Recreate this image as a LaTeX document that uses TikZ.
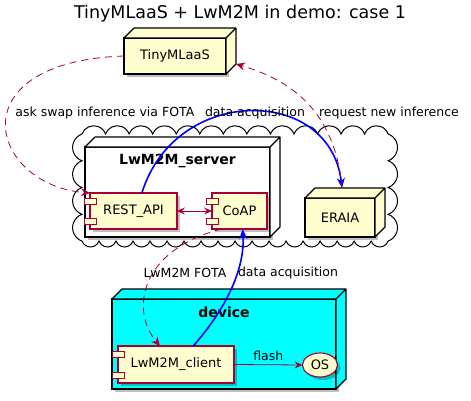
\documentclass[tikz,border=0pt]{standalone}
\usepackage{fontspec}
\setmainfont{DejaVu Sans}
\usetikzlibrary{calc,arrows.meta,shadows,shapes.geometric}

\definecolor{notefill}{HTML}{FEFECE}
\definecolor{crimson}{HTML}{A80036}
\definecolor{devicecyan}{HTML}{00FFFF}

% side and top faces of a 3D node box
\newcommand{\depthfaces}[2]{%
  \filldraw[fill=#2, line width=1.2pt, line join=round] (#1.north west) -- ++(10,10) -- ($(#1.north east)+(10,10)$) -- ($(#1.south east)+(10,10)$) -- (#1.south east) -- (#1.north east) -- cycle (#1.north east) -- ++(10,10);}
% the two small tabs of a component
\newcommand{\comptabs}[1]{%
  \filldraw[draw=crimson, fill=notefill, line width=1pt] ($(#1.north west)+(-6,-5)$) rectangle ++(12,-6) ($(#1.south west)+(-6,5)$) rectangle ++(12,6);}

\begin{document}
\begin{tikzpicture}[x=1pt,y=1pt,
	pshadow/.style={drop shadow={shadow xshift=3pt, shadow yshift=-3pt, opacity=0.25, fill=black}},
	box/.style={draw, line width=1.2pt, fill=notefill, outer sep=0pt, inner sep=0pt, font=\fontsize{13}{15}\selectfont, pshadow},
	comp/.style={draw=crimson, fill=notefill, line width=1.1pt, outer sep=0pt, inner sep=0pt, font=\fontsize{13}{15}\selectfont, pshadow},
	boxtitle/.style={anchor=north, yshift=-4pt, font=\fontsize{14}{16}\selectfont\bfseries},
	lbl/.style={text=black, font=\fontsize{12.5}{14}\selectfont, inner sep=1pt},
	fota/.style={crimson, dash pattern=on 7pt off 5pt, line width=0.8pt, -{Stealth[length=9pt,width=8pt,inset=3pt]}},
	data/.style={blue, line width=1.6pt, -{Stealth[length=10pt,width=8pt,inset=3pt]}},
	link/.style={crimson, line width=0.8pt}
]
	\useasboundingbox (0,0) rectangle (471,400);
	\node[font=\fontsize{17.5}{20}\selectfont] (title) at (240,386) {TinyMLaaS + LwM2M in demo: case 1};

	% cloud
	\draw[line width=1pt, fill=white] (82,266)
		\foreach \i in {1,...,13} { arc[start angle=160, end angle=20, radius=12.53] }
		\foreach \i in {1,...,4} { arc[start angle=70, end angle=-70, radius=14.24] }
		\foreach \i in {1,...,18} { arc[start angle=-20, end angle=-160, radius=9.05] }
		\foreach \i in {1,...,4} { arc[start angle=250, end angle=110, radius=14.24] } -- cycle;

	% server
	\node[box, fill=white, minimum width=185pt, minimum height=90pt, label={[boxtitle]north:LwM2M\_server}] (server) at (177.5,208) {};
	\depthfaces{server}{white}
	\node[comp, minimum width=87pt, minimum height=36pt] (rest) at (133.5,189) {REST\_API};
	\comptabs{rest}
	\node[comp, minimum width=55pt, minimum height=36pt] (coap) at (239.5,189) {CoAP};
	\comptabs{coap}

	\node[box, minimum width=70pt, minimum height=39pt] (eraia) at (340,182.5) {ERAIA};
	\depthfaces{eraia}{notefill}
	\coordinate (eraiatop) at ($(eraia.north)+(2,10)$);

	\node[box, minimum width=102pt, minimum height=36pt] (tiny) at (175,344) {TinyMLaaS};
	\depthfaces{tiny}{notefill}
	\coordinate (tinycorner) at ($(tiny.south east)+(10,10)$);

	% device
	\node[box, fill=devicecyan, minimum width=224pt, minimum height=90pt, label={[boxtitle]north:device}] (device) at (224,56) {};
	\depthfaces{device}{devicecyan}
	\node[comp, minimum width=116pt, minimum height=37pt] (client) at (176,35.5) {LwM2M\_client};
	\comptabs{client}
	\node[comp, ellipse, minimum width=35pt, minimum height=24pt] (os) at (320,35) {OS};

	% connectors
	\draw[fota] (tiny.west) .. controls (-45,338) and (-10,215) .. (rest.north west)
		node[lbl, anchor=west] at (14,287) {ask swap inference via FOTA};
	\draw[data] (rest.65) .. controls (175,315) and (330,315) .. (eraiatop)
		node[lbl] at (255,287) {data acquisition};
	\draw[fota] (eraiatop) .. controls (335,290) and (290,320) .. (tinycorner)
		node[lbl] at (389,287) {request new inference};
	\draw[link, {Stealth[length=8pt,width=7pt,inset=3pt]}-{Stealth[length=8pt,width=7pt,inset=3pt]}] (rest.east) -- (coap.west);
	\draw[fota] (coap.225) .. controls (140,150) and (130,90) .. (client.131)
		node[lbl] at (185,127) {LwM2M FOTA};
	\draw[data] (client.47) .. controls (225,90) and (245,130) .. (coap.-80)
		node[lbl] at (288,127) {data acquisition};
	\draw[link, -{Stealth[length=8pt,width=7pt,inset=3pt]}] (client.east) -- node[lbl, above=3pt] {flash} (os.west);
\end{tikzpicture}
\end{document}
